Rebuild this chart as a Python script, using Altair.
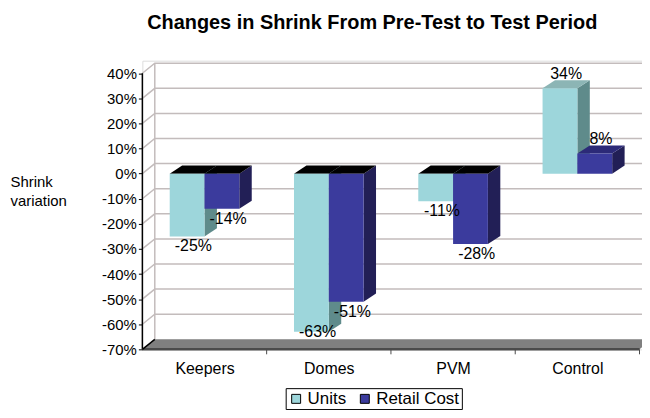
import altair as alt
import pandas as pd

# ---------------- data ----------------
categories = ["Keepers", "Domes", "PVM", "Control"]
series = ["Units", "Retail Cost"]
units = [-25, -63, -11, 34]
retail = [-14, -51, -28, 8]
y_ticks = [-70, -60, -50, -40, -30, -20, -10, 0, 10, 20, 30, 40]

# ---------------- style / geometry ----------------
FONT = "Liberation Sans"
BW = 0.28      # bar width (category units)
DX = 0.1       # bar depth, x
DY = 3.2       # bar depth, y (%)
WDX = 0.1      # wall depth, x
WDY = 4.0      # wall depth, y
XMIN, XMAX = -0.5, 3.52
YMIN, YMAX = -70, 45

front_col = {"Units": "#9dd6db", "Retail Cost": "#3b3b9d"}
side_col = {"Units": "#5f8b8b", "Retail Cost": "#221f56"}
top_pos_col = {"Units": "#8cb5b5", "Retail Cost": "#2c2a78"}

values = {"Units": units, "Retail Cost": retail}

front_rows, side_rows, top_rows, label_rows = [], [], [], []
for i, cat in enumerate(categories):
    for s_idx, s in enumerate(series):
        v = values[s][i]
        l = i - BW if s_idx == 0 else i
        r = l + BW
        bid = f"{cat}-{s}"
        front_rows.append(dict(series=s, x1=l, x2=r, v=v, zero=0))
        side_rows.append(dict(series=s, id=bid, x=r, y=v, y2=0, c=side_col[s]))
        side_rows.append(dict(series=s, id=bid, x=r + DX, y=v + DY, y2=DY, c=side_col[s]))
        top = max(v, 0)
        tc = top_pos_col[s] if v > 0 else "#000000"
        top_rows.append(dict(series=s, id=bid, y=top, x=l, x2=r, c=tc))
        top_rows.append(dict(series=s, id=bid, y=top + DY, x=l + DX, x2=r + DX, c=tc))
        ly = v + DY + 2.5 if v > 0 else max(v - 4, -63)
        label_rows.append(dict(lx=(l + r) / 2 + DX / 2, ly=ly, lab=f"{v}%"))

front_df = pd.DataFrame(front_rows)
side_df = pd.DataFrame(side_rows)
top_df = pd.DataFrame(top_rows)
label_df = pd.DataFrame(label_rows)

grid_rows = []
for t in y_ticks:
    if t == -70:
        continue
    grid_rows += [dict(t=t, k=0, x=XMIN, y=t),
                  dict(t=t, k=1, x=XMIN + WDX, y=t + WDY),
                  dict(t=t, k=2, x=XMAX, y=t + WDY)]
grid_df = pd.DataFrame(grid_rows)

floor_df = pd.DataFrame([dict(y=-70, x=XMIN, x2=3.5), dict(y=-70 + WDY, x=XMIN + WDX, x2=3.5 + WDX)])
edge_df = pd.DataFrame([dict(x=XMIN, y=-70), dict(x=XMIN + WDX, y=-70 + WDY)])
boundaries = pd.DataFrame({"b": [0.5, 1.5, 2.5, 3.5]})

xscale = alt.Scale(domain=[XMIN, XMAX], nice=False, zero=False)
yscale = alt.Scale(domain=[YMIN, YMAX], nice=False, zero=False)

label_expr = "[" + ",".join(f"'{c}'" for c in categories) + "][datum.value]"
xaxis = alt.Axis(values=[0, 1, 2, 3], labelExpr=label_expr, ticks=False, domain=False,
                 grid=False, labelFont=FONT, labelFontSize=16, labelColor="black",
                 labelPadding=11, title=None)
yaxis = alt.Axis(values=y_ticks, labelExpr="datum.value + '%'", domain=False, grid=False,
                 ticks=True, tickColor="black", tickSize=4, labelFont=FONT, labelFontSize=15,
                 labelColor="black", labelPadding=2,
                 title=["Shrink", "variation"], titleAngle=0, titleAlign="left",
                 titleBaseline="alphabetic", titleX=-133, titleY=126, titleFont=FONT,
                 titleFontSize=15, titleFontWeight="normal", titleColor="black",
                 titleLineHeight=20)


def X(f):
    return alt.X(f, type="quantitative", scale=xscale, axis=xaxis)


def Y(f):
    return alt.Y(f, type="quantitative", scale=yscale, axis=yaxis)


grid = alt.Chart(grid_df).mark_line(color="#c3bcbc", strokeWidth=1.5).encode(
    x=X("x"), y=Y("y"), detail="t:N", order="k:Q")

front_axis = alt.Chart(pd.DataFrame({"x": [XMIN], "y": [-70], "y2": [40]})).mark_rule(
    color="black", strokeWidth=1.5).encode(x=X("x"), y=Y("y"), y2="y2")
back_edge = alt.Chart(pd.DataFrame({"x": [XMIN + WDX], "y": [-70 + WDY], "y2": [40 + WDY]})).mark_rule(
    color="#c3bcbc", strokeWidth=1.5).encode(x=X("x"), y=Y("y"), y2="y2")

floor = alt.Chart(floor_df).mark_area(orient="horizontal", color="#7f7f7f", clip=True).encode(
    y=Y("y"), x=X("x"), x2="x2")
floor_edge = alt.Chart(pd.DataFrame({"x": [XMIN], "x2": [3.5], "y": [-70]})).mark_rule(
    color="#4a4a4a", strokeWidth=2.5).encode(x=X("x"), x2="x2", y=Y("y"))
floor_diag = alt.Chart(edge_df).mark_line(color="black", strokeWidth=1.5).encode(x=X("x"), y=Y("y"))
btick = alt.Chart(boundaries).mark_rule(color="#4a4a4a", strokeWidth=1).encode(
    x=X("b"), y=alt.value(290), y2=alt.value(295))


def sides(s):
    return alt.Chart(side_df[side_df.series == s]).mark_area(orient="vertical").encode(
        x=X("x"), y=Y("y"), y2="y2", detail="id:N", fill=alt.Fill("c:N", scale=None))


def tops(s):
    return alt.Chart(top_df[top_df.series == s]).mark_area(orient="horizontal").encode(
        y=Y("y"), x=X("x"), x2="x2", detail="id:N", fill=alt.Fill("c:N", scale=None))


fronts = alt.Chart(front_df).mark_rect().encode(
    x=X("x1"), x2="x2", y=Y("v"), y2="zero",
    color=alt.Color("series:N",
                    scale=alt.Scale(domain=series, range=[front_col[s] for s in series]),
                    legend=alt.Legend(title=None, orient="none", legendX=144, legendY=329,
                                      direction="horizontal", symbolType="square",
                                      symbolSize=81, symbolStrokeColor="black",
                                      symbolStrokeWidth=1, labelFont=FONT, labelFontSize=17,
                                      labelColor="black", strokeColor="black", fillColor="white",
                                      padding=2, columnPadding=10, labelOffset=3)))

labels = alt.Chart(label_df).mark_text(font=FONT, fontSize=16, color="black", baseline="middle").encode(
    x=X("lx"), y=Y("ly"), text="lab:N")

chart = alt.layer(
    grid, back_edge, front_axis, floor, floor_edge, floor_diag, btick,
    sides("Units"), tops("Units"), sides("Retail Cost"), tops("Retail Cost"),
    fronts, labels
).properties(
    width=502, height=290,
    autosize=alt.AutoSizeParams(type="none"),
    padding={"left": 135, "top": 52, "right": 0, "bottom": 60},
    title=alt.TitleParams("Changes in Shrink From Pre-Test to Test Period", font=FONT,
                          fontSize=20, fontWeight="bold", color="black", anchor="middle",
                          dx=-20, offset=27),
).configure_view(stroke=None).configure(background="white")

chart.save("out.html", embed_options={"renderer": "svg", "actions": False})
